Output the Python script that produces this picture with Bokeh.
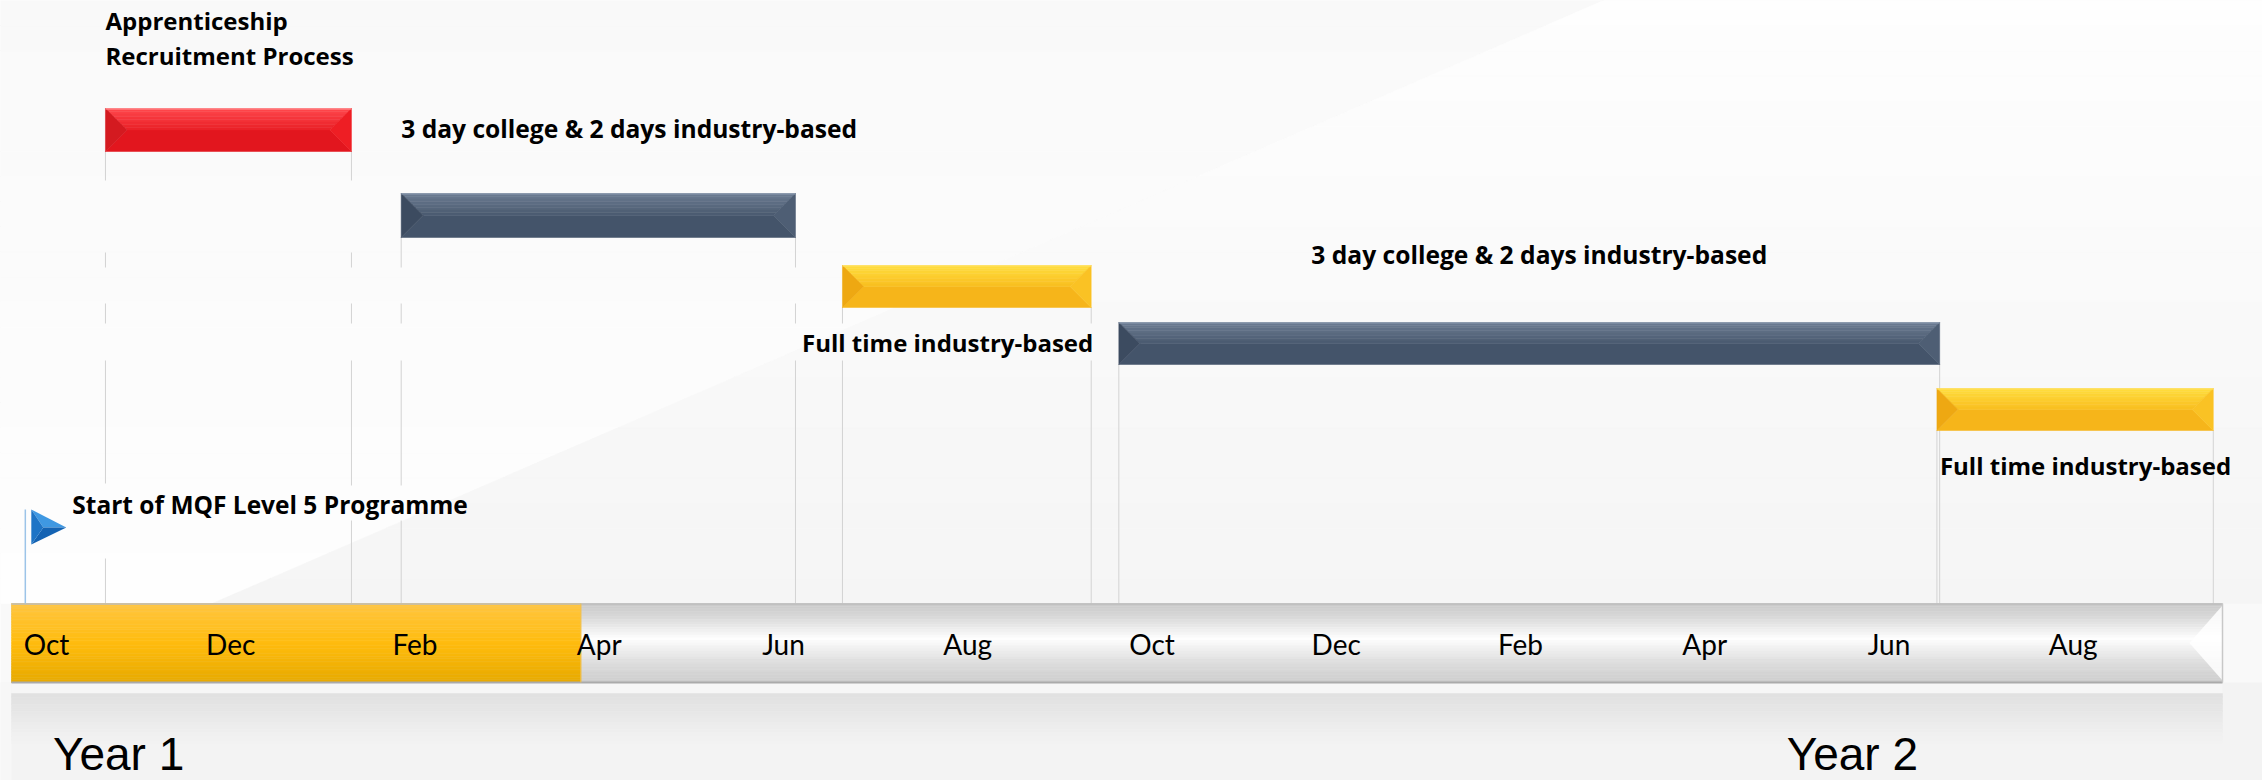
from bokeh.plotting import figure
from bokeh.models import Range1d
from bokeh.core.properties import value
from bokeh.embed import file_html
from bokeh.resources import INLINE

# ---------------- data ----------------
month_labels = ["Oct", "Dec", "Feb", "Apr", "Jun", "Aug", "Oct", "Dec", "Feb", "Apr", "Jun", "Aug"]
month_pos = [0, 2, 4, 6, 8, 10, 12, 14, 16, 18, 20, 22]      # months since 1 Oct, Year 1
timeline_months = 24
progress_end = 6.18

year_labels = ["Year 1", "Year 2"]
year_pos = [0.45, 19.27]

task_labels = ["Apprenticeship\nRecruitment Process",
               "3 day college & 2 days industry-based",
               "Full time industry-based",
               "3 day college & 2 days industry-based",
               "Full time industry-based"]
task_start = [1.02, 4.23, 9.02, 12.02, 20.90]
task_end = [3.69, 8.51, 11.72, 20.93, 23.90]
task_kind = ["recruit", "college", "industry", "college", "industry"]

milestone_label = "Start of MQF Level 5 Programme"
milestone_pos = 0.15

# ---------------- layout / style ----------------
W, H = 2262, 780
PX = 92.125           # pixels per month
X0 = 11               # screen x of month 0
def dx(px):           # screen px -> data x
    return (px - X0) / PX

row_top = [108, 193, 265, 322, 388]
row_h = [43, 44, 42, 42, 42]
TL_TOP, TL_BOT = 603, 682

label_place = [  # (anchor, align, x_offset_px, text y positions, font size)
    ("start", "left", 0, [20, 55], "24px"),
    ("start", "left", 0, [128], "24.6px"),
    ("end", "right", 2, [342], "24px"),
    ("mid", "center", 10, [254], "24.6px"),
    ("start", "left", 3, [465], "24px"),
]

kind_cols = {
    "recruit": dict(top1=(255, 72, 78), top2=(233, 32, 38), main=(226, 22, 30),
                    left=(212, 26, 32), right=(238, 30, 36), edge="#ff9a9a"),
    "college": dict(top1=(108, 124, 146), top2=(74, 90, 112), main=(68, 84, 106),
                    left=(60, 75, 96), right=(78, 94, 116), edge="#8a9ab0"),
    "industry": dict(top1=(255, 222, 62), top2=(249, 190, 32), main=(246, 181, 26),
                     left=(238, 168, 18), right=(250, 194, 36), edge="#ffe066"),
}

def lerp(c1, c2, t):
    return tuple(int(round(a + (b - a) * t)) for a, b in zip(c1, c2))

def hx(c):
    return "#%02x%02x%02x" % c

def interp_keys(ts, cs, t):
    for i in range(len(ts) - 1):
        if ts[i] <= t <= ts[i + 1]:
            return lerp(cs[i], cs[i + 1], (t - ts[i]) / (ts[i + 1] - ts[i]))
    return cs[-1]

p = figure(width=W, height=H, output_backend="svg", toolbar_location=None,
           x_range=Range1d(dx(0), dx(W)), y_range=Range1d(H, 0),
           min_border=0, outline_line_color=None, background_fill_color="#f9f9f9",
           border_fill_color="#f9f9f9", x_axis_location=None, y_axis_location=None)
p.xgrid.visible = False
p.ygrid.visible = False

# ---------------- background ----------------
xs, ys, cols = [], [], []
nb = 24
def diag(y):
    return 1603 - 1389 * (y / 602.0)
for i in range(nb):
    ya = TL_TOP * i / nb
    yb = TL_TOP * (i + 1) / nb
    t = (i + 0.5) / nb
    xs.append([dx(0), dx(diag(ya)), dx(diag(yb)), dx(0)])
    ys.append([ya, ya, yb, yb])
    cols.append(hx(lerp((249, 249, 249), (254, 254, 254), t)))
    xs.append([dx(diag(ya)), dx(W), dx(W), dx(diag(yb))])
    ys.append([ya, ya, yb, yb])
    cols.append(hx(lerp((254, 254, 254), (245, 245, 245), t)))
p.patches(xs, ys, fill_color=cols, line_color=cols, line_width=0.5)

# below timeline
p.quad(left=[dx(0)], right=[dx(W)], top=[TL_BOT], bottom=[H], fill_color="#f3f3f3", line_color=None)
p.quad(left=[dx(0)], right=[0], top=[TL_BOT], bottom=[H], fill_color="#f7f7f7", line_color=None)
p.quad(left=[0], right=[timeline_months], top=[TL_BOT], bottom=[693], fill_color="#f6f6f6", line_color=None)
rl, rr, rt, rb, rc = [], [], [], [], []
nr = 14
for i in range(nr):
    ya = 693 + 50 * i / nr
    yb = 693 + 50 * (i + 1) / nr
    rl.append(0); rr.append(timeline_months); rt.append(ya); rb.append(yb)
    rc.append(hx(lerp((224, 224, 224), (243, 243, 243), (i + 0.5) / nr)))
p.quad(left=rl, right=rr, top=rt, bottom=rb, fill_color=rc, line_color=rc, line_width=0.5)

# ---------------- connector lines ----------------
occluders = [(180, 252, 380), (267, 303, 820), (323, 360, 1100), (483, 558, 110), (485, 520, 500)]
seg_x, seg_y = [], []
for s, e, yt, h in zip(task_start, task_end, row_top, row_h):
    for xv in (s, e):
        px = X0 + xv * PX
        y_from = yt + h
        cuts = sorted([(a, b) for a, b, xm in occluders if px < xm and b > y_from])
        cur = y_from
        for a, b in cuts:
            if a > cur:
                seg_x.append([xv, xv]); seg_y.append([cur, a])
            cur = max(cur, b)
        if cur < TL_TOP:
            seg_x.append([xv, xv]); seg_y.append([cur, TL_TOP])
p.multi_line(seg_x, seg_y, line_color="#d3d3d3", line_width=1)

# ---------------- timeline bar ----------------
nt = 30
gt, gb, gc, oc = [], [], [], []
for i in range(nt):
    ya = TL_TOP + (TL_BOT - TL_TOP) * i / nt
    yb = TL_TOP + (TL_BOT - TL_TOP) * (i + 1) / nt
    t = (i + 0.5) / nt
    g = interp_keys([0, 0.15, 0.45, 0.72, 1.0], [(200,) * 3, (214,) * 3, (254,) * 3, (224,) * 3, (204,) * 3], t)
    o = interp_keys([0, 0.5, 1.0], [(255, 198, 66), (255, 188, 14), (232, 170, 0)], t)
    gt.append(ya); gb.append(yb); gc.append(hx(g)); oc.append(hx(o))
p.quad(left=[0] * nt, right=[timeline_months] * nt, top=gt, bottom=gb, fill_color=gc, line_color=gc, line_width=0.5)
p.quad(left=[0] * nt, right=[progress_end] * nt, top=gt, bottom=gb, fill_color=oc, line_color=oc, line_width=0.5)
tx = timeline_months
p.patch([tx, tx - 33 / PX, tx], [TL_TOP + 2, (TL_TOP + TL_BOT) / 2, TL_BOT - 2], fill_color="#ffffff",
        fill_alpha=0.85, line_color=None)
p.segment(x0=[0], x1=[timeline_months], y0=[TL_TOP + 0.5], y1=[TL_TOP + 0.5], line_color="#bcbcbc", line_width=1.5)
p.segment(x0=[0], x1=[timeline_months], y0=[TL_BOT], y1=[TL_BOT], line_color="#aaaaaa", line_width=2)
p.segment(x0=[timeline_months], x1=[timeline_months], y0=[TL_TOP], y1=[TL_BOT], line_color="#c8c8c8", line_width=1.5)
p.segment(x0=[progress_end], x1=[progress_end], y0=[TL_TOP], y1=[TL_BOT], line_color="#f0c050", line_width=1)

# ---------------- task bars (bevelled) ----------------
bx, by, bc = [], [], []
edges = []
for s, e, yt, h, k in zip(task_start, task_end, row_top, row_h, task_kind):
    c = kind_cols[k]
    yb = yt + h
    ym = yt + h / 2.0
    d = (h / 2.0) / PX
    bx.append([s, e, e - d, s + d]); by.append([yb, yb, ym, ym]); bc.append(hx(c["main"]))
    ns = 8
    for j in range(ns):
        fa, fb = j / ns, (j + 1) / ns
        ya, yb2 = yt + (ym - yt) * fa, yt + (ym - yt) * fb
        bx.append([s + d * fa, e - d * fa, e - d * fb, s + d * fb])
        by.append([ya, ya, yb2, yb2])
        bc.append(hx(lerp(c["top1"], c["top2"], (j + 0.5) / ns)))
    bx.append([s, s + d, s]); by.append([yt, ym, yb]); bc.append(hx(c["left"]))
    bx.append([e, e - d, e]); by.append([yt, ym, yb]); bc.append(hx(c["right"]))
    edges.append((s, e, yt, c["edge"]))
p.patches(bx, by, fill_color=bc, line_color=bc, line_width=0.5)
p.segment(x0=[q[0] for q in edges], x1=[q[1] for q in edges], y0=[q[2] + 0.5 for q in edges],
          y1=[q[2] + 0.5 for q in edges], line_color=[q[3] for q in edges], line_width=1.2)

# ---------------- milestone ----------------
m = milestone_pos
p.segment(x0=[m], x1=[m], y0=[509], y1=[TL_TOP], line_color="#9cc4e8", line_width=1.5)
ax, tipx = m + 6 / PX, m + 41 / PX
cx, cy = m + 18 / PX, 527
p.patches([[ax, tipx, cx], [ax, tipx, cx], [ax, ax, cx]],
          [[509, 527, cy], [544, 527, cy], [509, 544, cy]],
          fill_color=["#3f98e2", "#1463b3", "#1d74c6"], line_color=None)

# ---------------- texts ----------------
BOLD = dict(text_font=value("Open Sans"), text_font_style="bold",
            text_color="#000000", text_baseline="alphabetic")
for lab, s, e, (anchor, align, off, bases, fs) in zip(task_labels, task_start, task_end, label_place):
    xv = {"start": s, "end": e, "mid": (s + e) / 2.0}[anchor]
    lines = lab.split("\n")
    p.text(x=[xv] * len(lines), y=bases, text=lines, text_align=align, x_offset=off,
           text_font_size=fs, **BOLD)

p.text(x=[m], y=[504], text=[milestone_label], text_align="left", x_offset=47,
       text_font_size="24.5px", **BOLD)

p.text(x=month_pos, y=[643] * len(month_pos), text=month_labels, text_align="center", x_offset=35,
       text_font=value("Lato"), text_font_size="28px", text_color="#000000", text_baseline="alphabetic")

p.text(x=year_pos, y=[753, 753], text=year_labels, text_align="left",
       text_font=value("Liberation Sans"), text_font_size="46px", text_color="#000000",
       text_baseline="alphabetic")

open("out.html", "w").write(file_html(p, INLINE))
